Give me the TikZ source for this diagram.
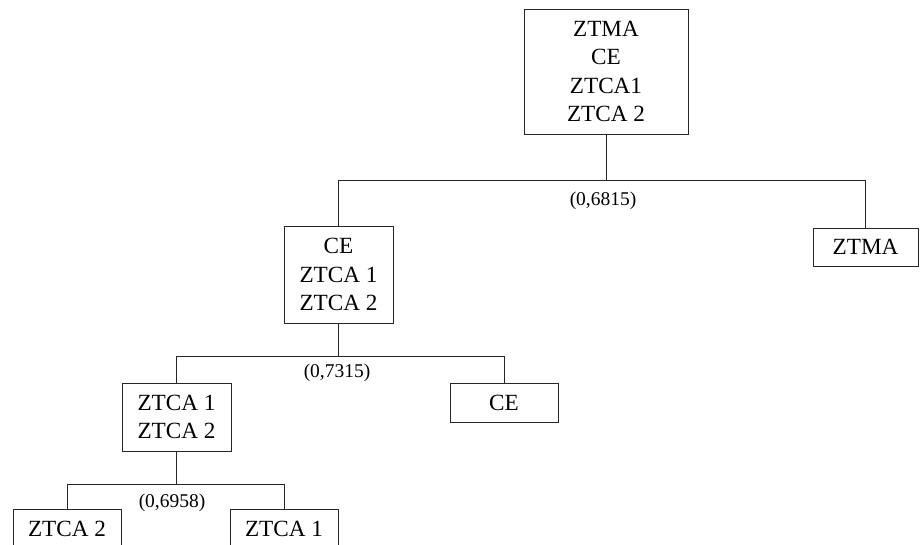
\documentclass[tikz,border=0pt]{standalone}
\usepackage{fontspec}
\setmainfont{Liberation Serif}
\begin{document}
\begin{tikzpicture}[x=0.75pt,y=-0.75pt,
  box/.style={draw=black!85,line width=0.7pt,align=center,inner sep=0pt,
    font=\fontsize{17.4}{21.3}\selectfont},
  lbl/.style={inner sep=0pt,font=\fontsize{14.6}{17}\selectfont},
  conn/.style={draw=black!85,line width=0.7pt}]
\useasboundingbox (0,0) rectangle (920,544);
\clip (0,0) rectangle (920,544);
\node[box,minimum width=164*0.75pt,minimum height=125*0.75pt] (root) at (606,71.5) {ZTMA\\CE\\ZTCA1\\ZTCA 2};
\node[box,minimum width=109*0.75pt,minimum height=97*0.75pt] (ce3) at (338.5,274.5) {CE\\ZTCA 1\\ZTCA 2};
\node[box,minimum width=105*0.75pt,minimum height=38*0.75pt] (ztma) at (865.5,247) {ZTMA};
\node[box,minimum width=109*0.75pt,minimum height=68*0.75pt] (z12) at (176.5,417) {ZTCA 1\\ZTCA 2};
\node[box,minimum width=108*0.75pt,minimum height=39*0.75pt] (ce) at (504,402.5) {CE};
\node[box,minimum width=108*0.75pt,minimum height=40*0.75pt] (z2) at (67,529) {ZTCA 2};
\node[box,minimum width=108*0.75pt,minimum height=40*0.75pt] (z1) at (284,529) {ZTCA 1};
\coordinate (j1) at (603,180);
\coordinate (j2) at (339,356);
\coordinate (j3) at (176,484);
\draw[conn] (root.south) -- (root.south |- j1);
\draw[conn] (ce3.north) -- (ce3.north |- j1) -- (ztma.north |- j1) -- (ztma.north);
\draw[conn] (ce3.south) -- (ce3.south |- j2);
\draw[conn] (z12.north) -- (z12.north |- j2) -- (ce.north |- j2) -- (ce.north);
\draw[conn] (z12.south) -- (z12.south |- j3);
\draw[conn] (z2.north) -- (z2.north |- j3) -- (z1.north |- j3) -- (z1.north);
\node[lbl] (l1) at (603,201) {(0,6815)};
\node[lbl] (l2) at (337,373) {(0,7315)};
\node[lbl] (l3) at (172,503) {(0,6958)};
\end{tikzpicture}
\end{document}
